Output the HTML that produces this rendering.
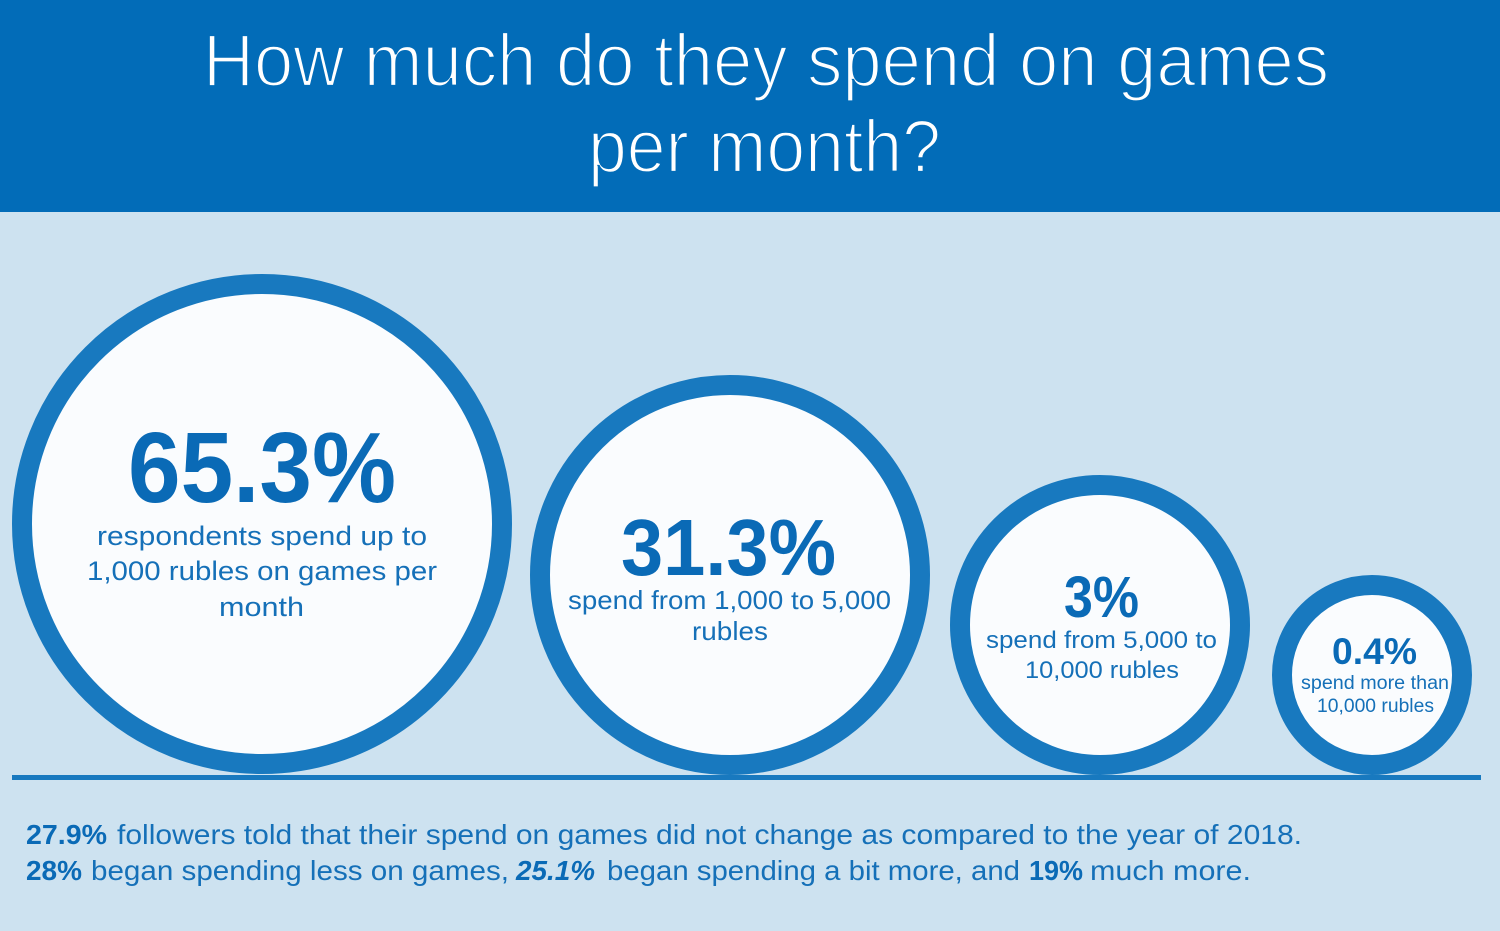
<!DOCTYPE html>
<html>
<head>
<meta charset="utf-8">
<style>
  html, body { margin: 0; padding: 0; }
  body { width: 1500px; height: 931px; overflow: hidden; background: #cde2f0; }
  svg { display: block; }
  .t { font-family: "Liberation Sans", sans-serif; }
</style>
</head>
<body>
<svg width="1500" height="931" viewBox="0 0 1500 931" xmlns="http://www.w3.org/2000/svg">
  <rect x="0" y="0" width="1500" height="931" fill="#cde2f0"/>
  <!-- header -->
  <rect x="0" y="0" width="1500" height="212" fill="#026cb8"/>
  <text class="t" x="203" y="86" font-size="74" fill="#ffffff" stroke="#026cb8" stroke-width="2.2" textLength="1126" lengthAdjust="spacingAndGlyphs">How much do they spend on games</text>
  <text class="t" x="588" y="172" font-size="74" fill="#ffffff" stroke="#026cb8" stroke-width="2.2" textLength="353" lengthAdjust="spacingAndGlyphs">per month?</text>

  <!-- circles -->
  <circle cx="262" cy="524" r="240" fill="#fafcfe" stroke="#1879bf" stroke-width="20"/>
  <circle cx="730" cy="575" r="190" fill="#fafcfe" stroke="#1879bf" stroke-width="20"/>
  <circle cx="1100" cy="625" r="140" fill="#fafcfe" stroke="#1879bf" stroke-width="20"/>
  <circle cx="1372" cy="675" r="90" fill="#fafcfe" stroke="#1879bf" stroke-width="20"/>

  <!-- baseline -->
  <rect x="12" y="775" width="1469" height="5" fill="#1879bf"/>

  <!-- circle 1 -->
  <text class="t" x="128" y="502" font-size="100" font-weight="bold" fill="#0a6ab6" textLength="268" lengthAdjust="spacingAndGlyphs">65.3%</text>
  <text class="t" x="97" y="545" font-size="27" fill="#1570b8" textLength="330" lengthAdjust="spacingAndGlyphs">respondents spend up to</text>
  <text class="t" x="87" y="580" font-size="27" fill="#1570b8" textLength="350" lengthAdjust="spacingAndGlyphs">1,000 rubles on games per</text>
  <text class="t" x="219" y="616" font-size="27" fill="#1570b8" textLength="85" lengthAdjust="spacingAndGlyphs">month</text>

  <!-- circle 2 -->
  <text class="t" x="621" y="575" font-size="80" font-weight="bold" fill="#0a6ab6" textLength="215" lengthAdjust="spacingAndGlyphs">31.3%</text>
  <text class="t" x="568" y="609" font-size="26" fill="#1570b8" textLength="323" lengthAdjust="spacingAndGlyphs">spend from 1,000 to 5,000</text>
  <text class="t" x="692" y="640" font-size="26" fill="#1570b8" textLength="76" lengthAdjust="spacingAndGlyphs">rubles</text>

  <!-- circle 3 -->
  <text class="t" x="1064" y="617" font-size="58" font-weight="bold" fill="#0a6ab6" textLength="75" lengthAdjust="spacingAndGlyphs">3%</text>
  <text class="t" x="986" y="648" font-size="24" fill="#1570b8" textLength="231" lengthAdjust="spacingAndGlyphs">spend from 5,000 to</text>
  <text class="t" x="1025" y="678" font-size="24" fill="#1570b8" textLength="154" lengthAdjust="spacingAndGlyphs">10,000 rubles</text>

  <!-- circle 4 -->
  <text class="t" x="1332" y="664" font-size="37" font-weight="bold" fill="#0a6ab6" textLength="85" lengthAdjust="spacingAndGlyphs">0.4%</text>
  <text class="t" x="1301" y="689" font-size="19" fill="#1570b8" textLength="148" lengthAdjust="spacingAndGlyphs">spend more than</text>
  <text class="t" x="1317" y="712" font-size="19" fill="#1570b8" textLength="117" lengthAdjust="spacingAndGlyphs">10,000 rubles</text>

  <!-- bottom text -->
  <text class="t" x="26" y="844" font-size="28" font-weight="bold" fill="#0a6ab6" textLength="81" lengthAdjust="spacingAndGlyphs">27.9%</text>
  <text class="t" x="117" y="844" font-size="28" fill="#1570b8" textLength="1185" lengthAdjust="spacingAndGlyphs">followers told that their spend on games did not change as compared to the year of 2018.</text>

  <text class="t" x="26" y="880" font-size="28" font-weight="bold" fill="#0a6ab6" textLength="56" lengthAdjust="spacingAndGlyphs">28%</text>
  <text class="t" x="91" y="880" font-size="28" fill="#1570b8" textLength="418" lengthAdjust="spacingAndGlyphs">began spending less on games,</text>
  <text class="t" x="516" y="880" font-size="28" font-weight="bold" font-style="italic" fill="#0a6ab6" textLength="79" lengthAdjust="spacingAndGlyphs">25.1%</text>
  <text class="t" x="607" y="880" font-size="28" fill="#1570b8" textLength="413" lengthAdjust="spacingAndGlyphs">began spending a bit more, and</text>
  <text class="t" x="1029" y="880" font-size="28" font-weight="bold" fill="#0a6ab6" textLength="54" lengthAdjust="spacingAndGlyphs">19%</text>
  <text class="t" x="1090" y="880" font-size="28" fill="#1570b8" textLength="161" lengthAdjust="spacingAndGlyphs">much more.</text>
</svg>
</body>
</html>
